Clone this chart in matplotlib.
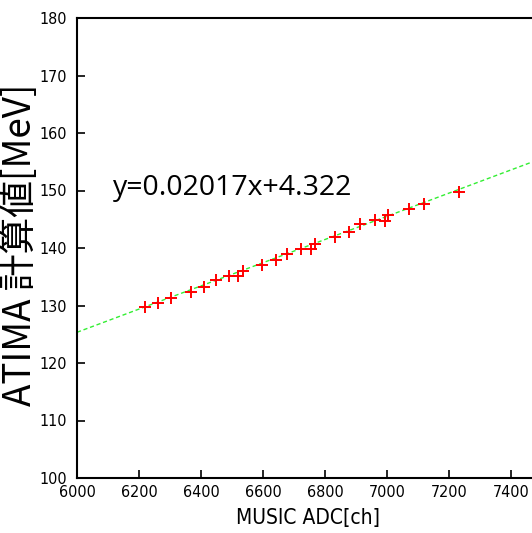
import matplotlib
matplotlib.use("Agg")
import matplotlib.pyplot as plt
import numpy as np

adc = [6218, 6261, 6304, 6367, 6410, 6447, 6490, 6520, 6535, 6598, 6643,
       6677, 6723, 6755, 6768, 6833, 6879, 6913, 6960, 6992, 7004, 7070,
       7118, 7232]
energy = [129.7, 130.5, 131.25, 132.4, 133.2, 134.4, 135.2, 135.2, 136.0,
          137.0, 137.9, 139.0, 139.9, 139.9, 140.7, 142.0, 142.7, 144.1,
          144.9, 144.75, 145.7, 146.8, 147.7, 149.7]
slope = 0.02017
intercept = 4.322
xticks = [6000, 6200, 6400, 6600, 6800, 7000, 7200, 7400]
yticks = [100, 110, 120, 130, 140, 150, 160, 170, 180]

tick_font = ['DejaVu Sans']

fig = plt.figure(figsize=(5.32, 5.33), dpi=100)
ax = fig.add_axes([77/532, 1 - 478/533, 465/532, (478-18)/533])

xl = np.array([6000, 7500])
ax.plot(xl, slope * xl + intercept, color='#33ee33', lw=1.0,
        linestyle=(0, (3, 2)), zorder=2)
ax.plot(adc, energy, linestyle='none', marker='+', color='#ff0000',
        markersize=8, markeredgewidth=1.4, zorder=3)

ax.set_xlim(6000, 7500)
ax.set_ylim(100, 180)
ax.set_xticks(xticks)
ax.set_yticks(yticks)
ax.tick_params(direction='in', length=6, width=1.2, labelsize=11.5)
ax.tick_params(axis='x', pad=5)
ax.tick_params(axis='y', pad=7)
for lab in ax.get_xticklabels() + ax.get_yticklabels():
    lab.set_family(tick_font)
    lab.set_stretch('condensed')
for s in ax.spines.values():
    s.set_linewidth(1.5)

ax.set_xlabel('MUSIC ADC[ch]', fontsize=15, family=tick_font,
              fontstretch='condensed')
ax.xaxis.set_label_coords((308 - 77) / 465, -(518 - 478) / 460)
ax.set_ylabel('ATIMA 計算値[MeV]', fontsize=26.5,
              family=['Noto Sans CJK JP', 'DejaVu Sans'])
ax.yaxis.set_label_coords(-(77 - 21) / 465, 0.506)
ax.yaxis.label.set_va('center')
ax.xaxis.label.set_va('center')

ax.text(6116, 150.4, 'y=0.02017x+4.322', fontsize=20.5,
        family=['Open Sans', 'DejaVu Sans'], va='center', ha='left')

fig.savefig('out.png', dpi=100)
